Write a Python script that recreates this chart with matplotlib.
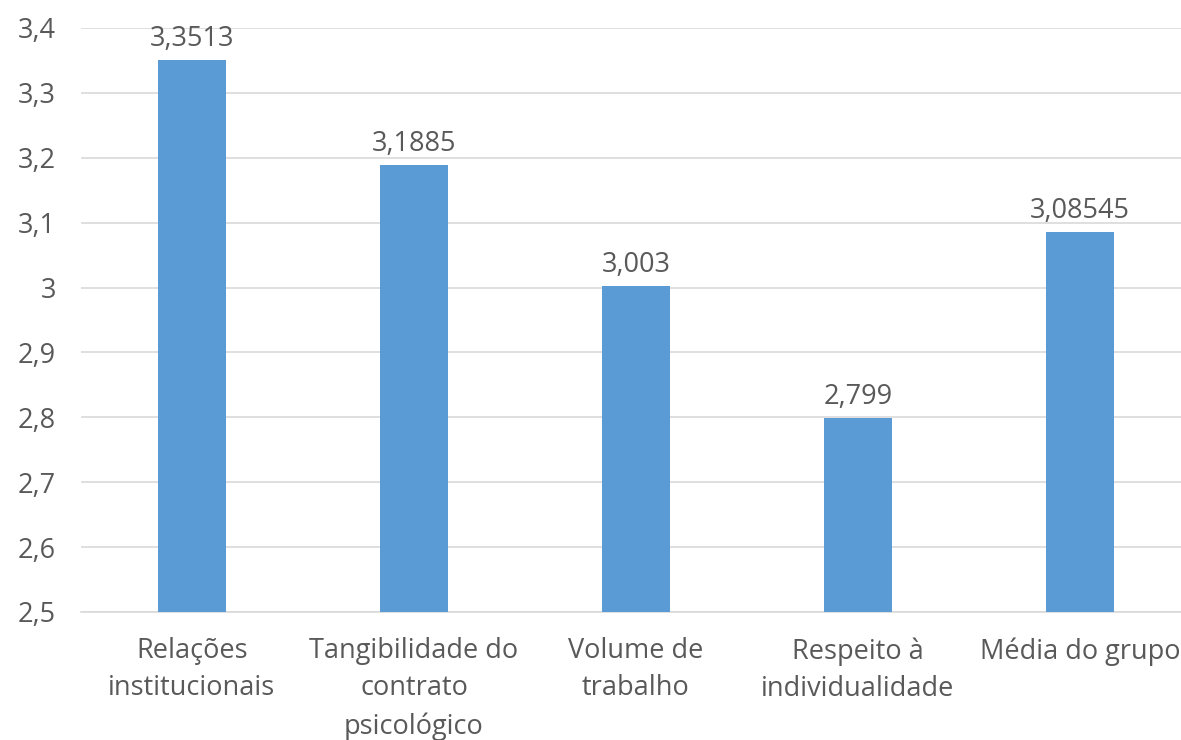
import matplotlib.pyplot as plt

categories = ["Relações\ninstitucionais", "Tangibilidade do\ncontrato\npsicológico",
              "Volume de\ntrabalho", "Respeito à\nindividualidade", "Média do grupo"]
values = [3.3513, 3.1885, 3.003, 2.799, 3.08545]
value_labels = ["3,3513", "3,1885", "3,003", "2,799", "3,08545"]
yticks = [2.5, 2.6, 2.7, 2.8, 2.9, 3.0, 3.1, 3.2, 3.3, 3.4]
ytick_labels = ["2,5", "2,6", "2,7", "2,8", "2,9", "3", "3,1", "3,2", "3,3", "3,4"]

plt.rcParams['font.family'] = ['Open Sans', 'DejaVu Sans']
text_color = '#595959'

fig = plt.figure(figsize=(11.81, 7.40), dpi=100)
ax = fig.add_axes([81 / 1181, 128 / 740, 1110 / 1181, 584 / 740])

x = range(len(categories))
ax.bar(x, values, width=0.31, color='#5B9BD5', zorder=3)

for xi, v, lab in zip(x, values, value_labels):
    ax.annotate(lab, (xi, v), xytext=(0, 5), textcoords='offset points',
                ha='center', va='bottom', fontsize=19.5, color=text_color)

ax.set_xlim(-0.5, len(categories) - 0.5)
ax.set_ylim(2.5, 3.4)
ax.set_yticks(yticks)
ax.set_yticklabels(ytick_labels, fontsize=19.5, color=text_color)
ax.set_xticks(list(x))
ax.set_xticklabels(categories, fontsize=19.5, color=text_color, linespacing=1.45)

ax.yaxis.grid(True, color='#D9D9D9', linewidth=1.2, zorder=0)
ax.tick_params(axis='both', length=0)
ax.tick_params(axis='y', pad=18)
ax.tick_params(axis='x', pad=18)
for side in ['top', 'right', 'left']:
    ax.spines[side].set_visible(False)
ax.spines['bottom'].set_color('#D9D9D9')
ax.spines['bottom'].set_linewidth(1.2)

fig.savefig('out.png', dpi=100)
